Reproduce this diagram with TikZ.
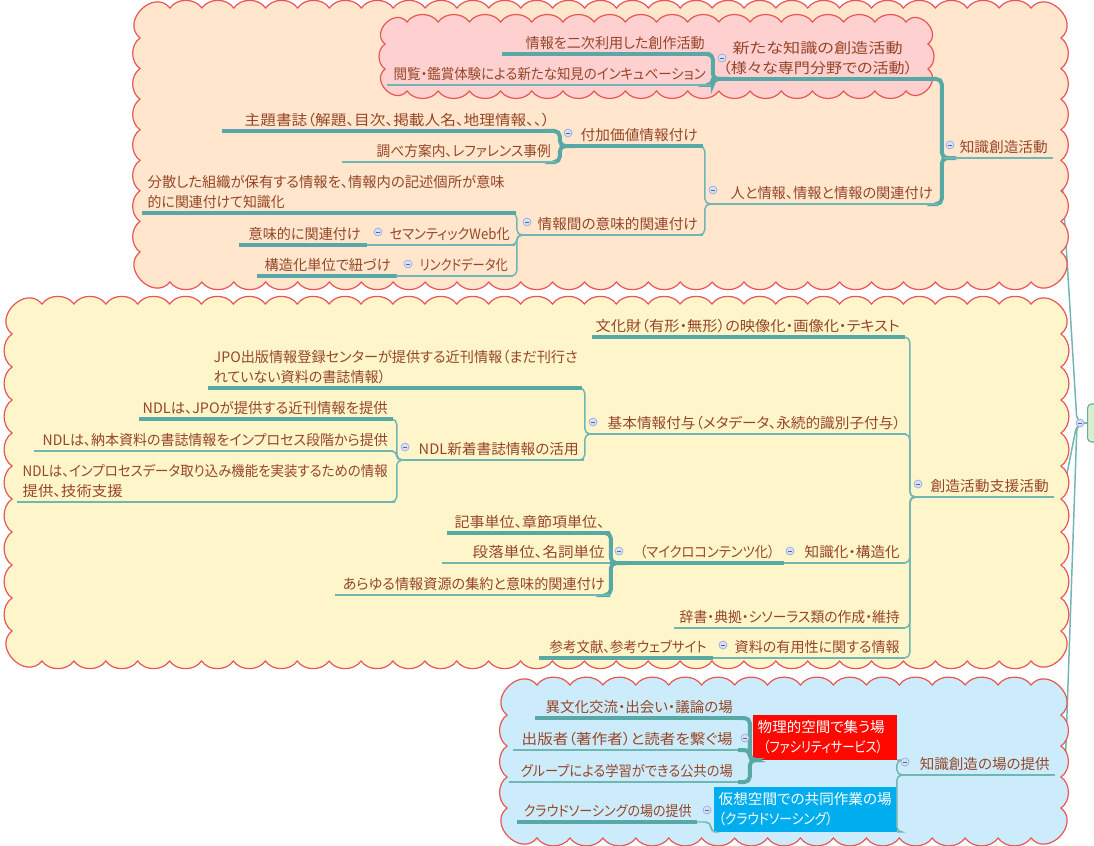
\documentclass[tikz,border=0pt]{standalone}
\usepackage{fontspec}
\usepackage{graphicx}
\setmainfont{Noto Sans CJK JP}[RawFeature=+palt]
\usetikzlibrary{calc}
\pgfdeclarelayer{bglines}
\pgfdeclarelayer{clouds}
\pgfsetlayers{bglines,clouds,main}
\definecolor{txtc}{RGB}{150,70,40}
\definecolor{teala}{RGB}{88,168,165}
\definecolor{tealb}{RGB}{112,182,178}
\definecolor{cred}{RGB}{232,85,85}
\definecolor{peach}{RGB}{255,230,204}
\definecolor{pinkc}{RGB}{255,208,208}
\definecolor{yelc}{RGB}{255,245,202}
\definecolor{bluec}{RGB}{204,236,252}
\definecolor{mkfill}{RGB}{214,224,250}
\definecolor{mkdraw}{RGB}{150,170,225}
\definecolor{boxred}{RGB}{255,8,0}
\definecolor{boxblue}{RGB}{0,174,239}
\definecolor{rootfill}{RGB}{216,238,208}
\definecolor{rootdraw}{RGB}{100,175,150}
\newsavebox\txbox
\newcommand\tx[2]{\sbox\txbox{#2}\pgfmathsetmacro\txs{(#1)*0.75/\the\wd\txbox}\scalebox{\txs}[1]{\usebox\txbox}}
\newcommand\lnR[2]{\hbox to\mywd{\hss\tx{#1}{#2}}}
\newcommand\lnL[2]{\hbox to\mywd{\tx{#1}{#2}\hss}}
\newcommand\lnC[2]{\hbox to\mywd{\hss\tx{#1}{#2}\hss}}
% scalloped cloud: style, x1, y1, x2, y2, corner size
\newcommand\cloudbox[6]{%
 \pgfmathsetmacro\cc{#6}%
 \pgfmathsetmacro\ca{0.667*#6}%
 \pgfmathsetmacro\cb{0.453*#6}%
 \pgfmathtruncatemacro\cnx{max(1,round((#4-#2-2*#6)/32))}%
 \pgfmathtruncatemacro\cny{max(1,round((#5-#3-2*#6)/32))}%
 \pgfmathsetmacro\cdx{(#4-#2-2*#6)/\cnx}%
 \pgfmathsetmacro\cdy{(#5-#3-2*#6)/\cny}%
 \path[#1] (#2,#3+\cc) .. controls (#2-\ca,#3+\cb) and (#2+\cb,#3-\ca) .. (#2+\cc,#3)
  \foreach \i in {1,...,\cnx}{to[bend left=55] ++(\cdx,0)}
  .. controls (#4-\cb,#3-\ca) and (#4+\ca,#3+\cb) .. (#4,#3+\cc)
  \foreach \i in {1,...,\cny}{to[bend left=55] ++(0,\cdy)}
  .. controls (#4+\ca,#5-\cb) and (#4-\cb,#5+\ca) .. (#4-\cc,#5)
  \foreach \i in {1,...,\cnx}{to[bend left=55] ++(-\cdx,0)}
  .. controls (#2+\cb,#5+\ca) and (#2-\ca,#5-\cb) .. (#2,#5-\cc)
  \foreach \i in {1,...,\cny}{to[bend left=55] ++(0,-\cdy)} -- cycle;}
\newcommand\conn[3][thn]{\draw[#1,rounded corners=4pt] (#2.south east) -| ([xshift=-2pt]#3.south west) -- (#3.south west);}
\newcommand\connS[3][thn]{\draw[#1] (#2.south east) -- (#3.south west);}
\newcommand\uln[2][thn]{\draw[#1] (#2.south west) -- (#2.south east);}
\tikzset{
 tw/.code={\pgfmathsetlengthmacro\mywd{(#1)*0.75pt-7.5pt}},
 nd/.style={anchor=south east, inner xsep=3.75pt, inner ysep=3pt, text=txtc, font=\fontsize{10.8pt}{15pt}\selectfont},
 bx/.style={anchor=south east, inner xsep=3.75pt, inner ysep=0pt, minimum height=33.75pt, text=white, font=\fontsize{10.8pt}{15pt}\selectfont},
 thk/.style={draw=teala, line width=3pt},
 thn/.style={draw=tealb, line width=1.1pt},
 cloud/.style={draw=cred, line width=0.9pt, fill=#1},
 mk/.style={circle, minimum size=6pt, inner sep=0pt, fill=mkfill, draw=mkdraw, line width=0.5pt,
   path picture={\draw[draw=mkdraw!60!black, line width=0.5pt] ([xshift=-1.5pt]path picture bounding box.center) -- ([xshift=1.5pt]path picture bounding box.center);}},
}
\begin{document}
\begin{tikzpicture}[x=0.75pt,y=-0.75pt]
\useasboundingbox (0,0) rectangle (1094,845);
\begin{pgfonlayer}{bglines}
\fill[white] (0,0) rectangle (1094,845);
\end{pgfonlayer}
% root
\node[draw=rootdraw, fill=rootfill, rounded corners=3pt, minimum width=20pt, minimum height=28.5pt, line width=0.8pt, anchor=west] (root) at (1087,423) {};
% clouds
\begin{pgfonlayer}{clouds}
\cloudbox{cloud=peach}{140}{8}{1061}{282}{30}
\cloudbox{cloud=pinkc}{385}{22}{928}{91}{22}
\cloudbox{cloud=yelc}{12}{304}{1061}{661}{30}
\cloudbox{cloud=bluec}{507}{685}{1061}{838}{30}
\end{pgfonlayer}
% ---- top branch
\node[nd,tw=108] (k1) at (1053,158) {\lnR{88}{知識創造活動}};
\node[nd,tw=204] (k11) at (920,79) {\vbox{\lnC{170}{新たな知識の創造活動}\lnC{190}{（様々な専門分野での活動）}}};
\node[nd,tw=207] (k111) at (710,54) {\lnR{179}{情報を二次利用した創作活動}};
\node[nd,tw=323] (k112) at (711,85) {\lnR{312}{閲覧・鑑賞体験による新たな知見のインキュベーション}};
\node[nd,tw=230] (k12) at (938,204) {\lnR{202}{人と情報、情報と情報の関連付け}};
\node[nd,tw=140] (k121) at (703,146) {\lnR{117}{付加価値情報付け}};
\node[nd,tw=332] (k1211) at (555,131) {\lnR{305}{主題書誌（解題、目次、掲載人名、地理情報、、）}};
\node[nd,tw=213] (k1212) at (556,162) {\lnR{174}{調べ方案内、レファレンス事例}};
\node[nd,tw=183] (k122) at (703,235) {\lnR{160}{情報間の意味的関連付け}};
\node[nd,tw=373] (k1221) at (516,213) {\vbox{\lnL{357}{分散した組織が保有する情報を、情報内の記述個所が意味}\lnL{137}{的に関連付けて知識化}}};
\node[nd,tw=147] (k1222) at (515,245) {\lnR{120}{セマンティックWeb化}};
\node[nd,tw=126] (k12221) at (366,245) {\lnR{112}{意味的に関連付け}};
\node[nd,tw=116] (k1223) at (513,276) {\lnR{88}{リンクドデータ化}};
\node[nd,tw=138] (k12231) at (396,276) {\lnR{126}{構造化単位で紐づけ}};
% ---- middle branch
\node[nd,tw=141] (s1) at (1054,497) {\lnR{118}{創造活動支援活動}};
\node[nd,tw=312] (s11) at (905,337) {\lnR{304}{文化財（有形・無形）の映像化・画像化・テキスト}};
\node[nd,tw=318] (s12) at (906,434) {\lnR{293}{基本情報付与（メタデータ、永続的識別子付与）}};
\node[nd,tw=373] (s121) at (582,388) {\vbox{\lnL{364}{JPO出版情報登録センターが提供する近刊情報（まだ刊行さ}\lnL{172}{れていない資料の書誌情報）}}};
\node[nd,tw=184] (s122) at (584,460) {\lnR{160}{NDL新着書誌情報の活用}};
\node[nd,tw=253] (s1221) at (393,419) {\lnR{245}{NDLは、JPOが提供する近刊情報を提供}};
\node[nd,tw=358] (s1222) at (393,451) {\lnR{345}{NDLは、納本資料の書誌情報をインプロセス段階から提供}};
\node[nd,tw=377] (s1223) at (395,502) {\vbox{\lnL{365}{NDLは、インプロセスデータ取り込み機能を実装するための情報}\lnL{100}{提供、技術支援}}};
\node[nd,tw=120] (s13) at (905,563) {\lnR{95}{知識化・構造化}};
\node[nd,tw=166] (s131) at (780,563) {\lnR{135}{（マイクロコンテンツ化）}};
\node[nd,tw=162] (s1311) at (610,533) {\lnR{150}{記事単位、章節項単位、}};
\node[nd,tw=167] (s1312) at (610,563) {\lnR{132}{段落単位、名詞単位}};
\node[nd,tw=274] (s1313) at (610,595) {\lnR{262}{あらゆる情報資源の集約と意味的関連付け}};
\node[nd,tw=230] (s14) at (905,628) {\lnR{220}{辞書・典拠・シソーラス類の作成・維持}};
\node[nd,tw=191] (s15) at (905,658) {\lnR{165}{資料の有用性に関する情報}};
\node[nd,tw=172] (s151) at (712,658) {\lnR{157}{参考文献、参考ウェブサイト}};
% ---- bottom branch
\node[nd,tw=155] (b1) at (1055,775) {\lnR{130}{知識創造の場の提供}};
\node[bx,fill=boxred,tw=144] (b11) at (897,760) {\vbox{\lnL{127}{物理的空間で集う場}\lnL{125}{\hspace{5pt}（ファシリティサービス）}}};
\node[bx,fill=boxblue,tw=183] (b12) at (897,832) {\vbox{\lnL{173}{仮想空間での共同作業の場}\lnL{114}{（クラウドソーシング）}}};
\node[nd,tw=202] (b111) at (738,718) {\lnR{187}{異文化交流・出会い・議論の場}};
\node[nd,tw=224] (b112) at (738,750) {\lnR{211}{出版者（著作者）と読者を繋ぐ場}};
\node[nd,tw=228] (b113) at (738,782) {\lnR{212}{グループによる学習ができる公共の場}};
\node[nd,tw=179] (b121) at (697,822) {\lnR{168}{クラウドソーシングの場の提供}};
% ---- root connectors (behind the clouds)
\begin{pgfonlayer}{bglines}
\draw[thn, rounded corners=6pt] (root.west) -- (1077,423) -- (1061,162) -- (k1.south east);
\draw[thn, rounded corners=6pt] (root.west) -- (1077,423) -- (1063,494) -- (s1.south east);
\draw[thn, rounded corners=6pt] (root.west) -- (1077,423) -- (1065,772) -- (b1.south east);
\end{pgfonlayer}
% ---- connectors
\conn[thk]{k11}{k1} \conn[thk]{k12}{k1}
\conn[thk]{k111}{k11} \conn[thk]{k112}{k11}
\conn{k121}{k12} \conn{k122}{k12}
\conn[thk]{k1211}{k121} \conn[thk]{k1212}{k121}
\conn{k1221}{k122} \conn{k1222}{k122} \conn{k1223}{k122}
\connS[thk]{k12221}{k1222} \connS[thk]{k12231}{k1223}
\conn{s11}{s1} \conn{s12}{s1} \conn{s13}{s1} \conn{s14}{s1} \conn{s15}{s1}
\conn{s121}{s12} \conn{s122}{s12}
\conn{s1221}{s122} \conn{s1222}{s122} \conn{s1223}{s122}
\connS[thk]{s131}{s13}
\conn[thk]{s1311}{s131} \connS[thk]{s1312}{s131} \conn[thk]{s1313}{s131}
\connS[thk]{s151}{s15}
\conn{b11}{b1} \conn{b12}{b1}
\conn[thk]{b111}{b11} \conn[thk]{b112}{b11} \conn[thk]{b113}{b11}
\conn{b121}{b12}
% ---- underlines
\uln{k1} \uln[thk]{k11} \uln[thk]{k111} \uln{k112} \uln{k12} \uln[thk]{k121}
\uln[thk]{k1211} \uln{k1212} \uln{k122} \uln[thk]{k1221} \uln{k1222} \uln[thk]{k12221}
\uln{k1223} \uln[thk]{k12231}
\uln{s1} \uln[thk]{s11} \uln{s12} \uln[thk]{s121} \uln{s122} \uln[thk]{s1221} \uln{s1222}
\uln{s1223} \uln{s13} \uln[thk]{s131} \uln[thk]{s1311} \uln{s1312} \uln{s1313} \uln{s14}
\uln{s15} \uln[thk]{s151}
\uln{b1} \uln[thk]{b111} \uln{b112} \uln{b113} \uln[thk]{b121}
% ---- markers
\node[mk] (m0) at (1080,423) {};
\node[mk] (m1) at (950,145) {};
\node[mk] (m2) at (722,58) {};
\node[mk] (m3) at (713,190) {};
\node[mk] (m4) at (568,133) {};
\node[mk] (m5) at (527,222) {};
\node[mk] (m6) at (378,232) {};
\node[mk] (m7) at (408,264) {};
\node[mk] (m8) at (918,484) {};
\node[mk] (m9) at (593,422) {};
\node[mk] (m10) at (405,447) {};
\node[mk] (m11) at (790,551) {};
\node[mk] (m12) at (619,551) {};
\node[mk] (m13) at (723,645) {};
\node[mk] (m14) at (905,762) {};
\node[mk] (m15) at (745,738) {};
\node[mk] (m16) at (707,810) {};
\end{tikzpicture}
\end{document}
